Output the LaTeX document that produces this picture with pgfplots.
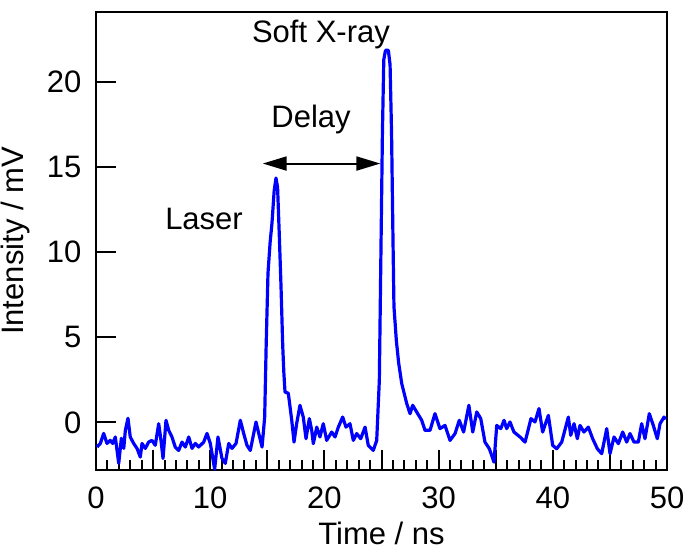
\documentclass[border=0pt]{standalone}
\usepackage{pgfplots}
\pgfplotsset{compat=1.18}
\usepackage{fontspec}
\setmainfont{Liberation Sans}
\usetikzlibrary{arrows.meta}
\begin{document}
\begin{tikzpicture}
\fontsize{15.5}{18}\selectfont
\begin{axis}[
  scale only axis,
  width=285.5pt, height=229pt,
  xmin=0, xmax=50, ymin=-2.8, ymax=24.1,
  axis line style={line width=1.1pt},
  tick style={line width=1pt, black},
  tick align=inside,
  xtick pos=bottom, ytick pos=left,
  xtick={0,10,...,50},
  extra x ticks={5,15,...,45},
  extra x tick labels={},
  minor x tick num=9,
  ytick={0,5,...,20},
  major tick length=10pt,
  minor tick length=5pt,
  /pgf/number format/assume math mode=true,
  ticklabel style={font=\fontsize{15.5}{18}\selectfont},
  xticklabel style={yshift=-3pt},
  yticklabel style={xshift=-2pt},
  label style={font=\fontsize{15.5}{18}\selectfont},
  xlabel={Time / ns},
  ylabel={Intensity / mV},
  xlabel style={yshift=4pt},
  ylabel style={yshift=-2pt},
  clip=false,
]
\addplot[color={rgb,255:red,0;green,0;blue,255}, line width=1.6pt, line join=round] coordinates {
(0.09,-1.45) (0.38,-1.24) (0.67,-0.65) (0.96,-1.24) (1.25,-1.06) (1.46,-1.24) (1.69,-0.86) (1.99,-2.41) (2.22,-0.94)
(2.43,-1.53) (2.57,-0.47) (2.80,0.24) (3.00,-0.86) (3.30,-1.24) (3.59,-1.53) (3.88,-2.04) (4.03,-1.24) (4.32,-1.53)
(4.61,-1.16) (4.90,-1.06) (5.19,-1.35) (5.49,-0.08) (5.69,-1.06) (5.87,-2.12) (6.13,0.12) (6.37,-0.47) (6.65,-0.86)
(6.94,-1.45) (7.24,-1.65) (7.53,-1.16) (7.82,-1.45) (8.12,-0.86) (8.41,-1.53) (8.70,-1.24) (8.99,-1.45) (9.43,-1.16)
(9.72,-0.65) (10.01,-1.24) (10.39,-2.75) (10.68,-0.86) (11.03,-2.12) (11.32,-2.41) (11.62,-1.24) (11.91,-1.53)
(12.26,-1.24) (12.64,0.12) (12.93,-0.65) (13.22,-1.35) (13.51,-1.65) (13.81,-0.65) (14.01,0.02) (14.25,-0.65)
(14.54,-1.45) (14.77,0.31) (14.9,4.5) (15.06,8.76) (15.25,10.6) (15.41,11.7) (15.6,13.6) (15.76,14.35) (15.9,13.8)
(16.05,11.0) (16.2,8.0) (16.35,4.5) (16.45,2.9) (16.55,1.78) (16.84,1.71) (17.14,0.12) (17.34,-1.16) (17.57,-0.08)
(17.86,1.00) (18.15,0.31) (18.39,-0.96) (18.68,0.22) (18.89,-0.47) (19.03,-1.25) (19.33,-0.28) (19.61,-0.86)
(19.90,-0.08) (20.20,-1.06) (20.64,-0.57) (20.93,-0.86) (21.22,-0.28) (21.60,0.31) (21.89,-0.28) (22.24,-0.08)
(22.53,-1.06) (22.83,-0.66) (23.18,-0.96) (23.56,-0.28) (23.84,-1.35) (24.28,-1.65) (24.58,-1.06) (24.81,2.47)
(24.95,10.0) (25.08,17.0) (25.2,21.3) (25.35,21.85) (25.6,21.85) (25.75,21.0) (25.88,17.0) (26.0,11.0) (26.09,6.8)
(26.3,4.8) (26.5,3.5) (26.77,2.28) (27.21,1.10) (27.50,0.51) (27.73,1.00) (28.08,0.61) (28.52,0.12) (28.81,-0.47)
(29.25,-0.47) (29.68,0.51) (30.12,-0.37) (30.56,-0.18) (31.00,-1.06) (31.44,-0.66) (31.81,0.12) (32.19,-0.57)
(32.65,1.00) (32.99,-0.57) (33.34,0.61) (33.69,0.22) (34.06,-1.16) (34.44,-1.55) (34.65,-1.94) (34.85,-2.34)
(35.09,-0.18) (35.44,-0.37) (35.73,0.12) (35.96,-0.37) (36.25,0.02) (36.60,-0.57) (37.13,-0.86) (37.57,-1.16)
(38.09,0.22) (38.44,0.02) (38.79,0.81) (39.11,-0.57) (39.61,0.41) (39.99,-1.35) (40.34,-1.55) (40.78,-1.16)
(41.36,0.31) (41.57,-0.76) (41.86,-0.08) (42.15,-0.96) (42.38,-0.18) (42.73,-0.57) (43.11,-0.28) (43.49,-0.96)
(43.90,-1.55) (44.28,-1.84) (44.72,-0.37) (45.01,-1.84) (45.36,-0.86) (45.74,-1.25) (46.12,-0.57) (46.47,-1.16)
(46.76,-0.66) (47.11,-1.16) (47.49,-1.16) (47.78,-0.08) (48.07,-0.96) (48.45,0.51) (48.80,-0.18) (49.15,-0.96)
(49.39,-0.08) (49.74,0.31) (49.9,0.2)
};
\node[anchor=base] at (axis cs:19.7,22.3) {Soft X-ray};
\node[anchor=base] at (axis cs:18.83,17.3) {Delay};
\node[anchor=base] at (axis cs:9.46,11.3) {Laser};
\draw[line width=1pt, {Triangle[length=12pt,width=7pt]}-{Triangle[length=12pt,width=7pt]}]
  (axis cs:14.6,15.2) -- (axis cs:24.9,15.2);
\end{axis}
\pgfresetboundingbox
\path ([shift={(-48pt,-42pt)}]current axis.south west) rectangle ([shift={(8pt,6pt)}]current axis.north east);
\end{tikzpicture}
\end{document}
